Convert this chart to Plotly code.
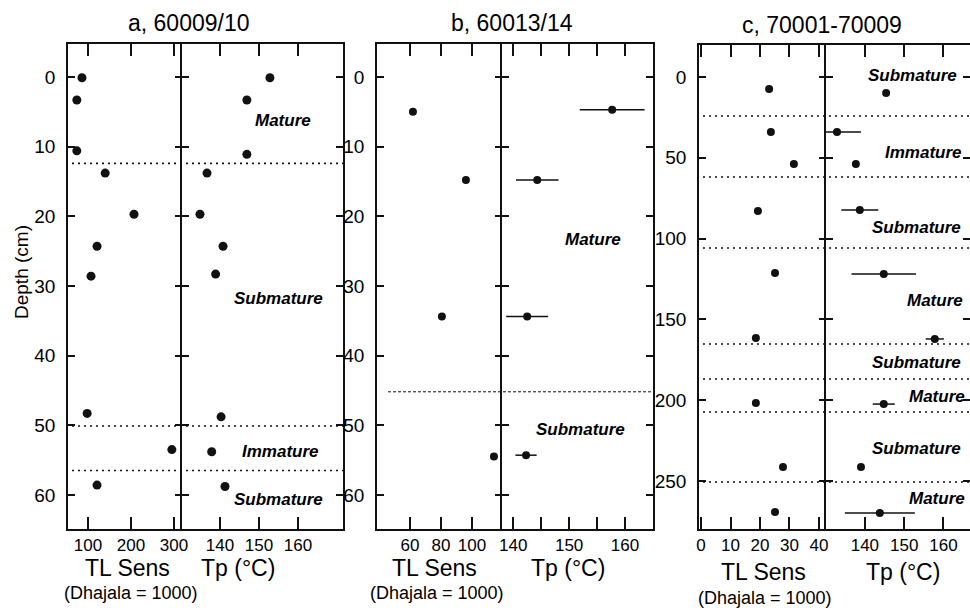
import plotly.graph_objects as go

# ---------------- data ----------------
# Panel a: 60009/10
a_tl_depth = [0.1, 3.3, 10.6, 13.8, 19.7, 24.3, 28.6, 48.3, 53.5, 58.6]
a_tl = [86, 74, 74, 140, 207, 121, 107, 98, 295, 121]
a_tp_depth = [0.1, 3.3, 11.1, 13.8, 19.7, 24.3, 28.3, 48.8, 53.8, 58.8]
a_tp = [152.8, 146.9, 146.9, 136.7, 134.9, 140.8, 138.9, 140.3, 137.9, 141.3]
a_bounds = [12.4, 50.1, 56.5]
a_zones = ["Mature", "Submature", "Immature", "Submature"]
a_zone_depth = [6.2, 31.8, 53.8, 60.7]

# Panel b: 60013/14
b_tl_depth = [5.0, 14.8, 34.4, 54.5]
b_tl = [61.9, 96.1, 80.6, 114.2]
b_tp_depth = [4.7, 14.8, 34.4, 54.3]
b_tp = [157.7, 144.3, 142.5, 142.3]
b_tp_err = [5.8, 3.8, 3.75, 1.9]
b_bounds = [45.2]
b_zones = ["Mature", "Submature"]
b_zone_depth = [23.4, 50.6]

# Panel c: 70001-70009
c_tl_depth = [7.4, 34.0, 53.8, 82.9, 121.3, 161.5, 201.7, 241.3, 269.2]
c_tl = [23.1, 23.7, 31.5, 19.3, 25.1, 18.6, 18.6, 27.8, 25.1]
c_tp_depth = [9.9, 34.0, 53.8, 82.3, 121.9, 162.1, 202.4, 241.3, 269.8]
c_tp = [145.4, 132.9, 137.7, 138.7, 144.8, 157.8, 144.8, 139.0, 143.8]
c_tp_err = [0, 6.1, 0, 4.7, 8.2, 2.3, 2.8, 0, 8.9]
c_bounds = [24.1, 61.9, 105.8, 165.2, 186.9, 207.3, 250.6]
c_zones = ["Submature", "Immature", "Submature", "Mature",
           "Submature", "Mature", "Submature", "Mature"]
c_zone_depth = [-1.2, 47, 93.4, 138, 176.4, 198, 230, 261]

titles = ["a, 60009/10", "b, 60013/14", "c, 70001-70009"]
a_tl_ticks = [100, 200, 300]
b_tl_ticks = [60, 80, 100]
c_tl_ticks = [0, 10, 20, 30, 40]
tp_ticks_ac = [140, 150, 160]
b_tp_ticks = [140, 145, 150, 155, 160]
b_tp_ticktext = ["140", "", "150", "", "160"]
ab_depth_ticks = [0, 10, 20, 30, 40, 50, 60]
c_depth_ticks = [0, 50, 100, 150, 200, 250]

# ---------------- layout helpers ----------------
W, H = 970, 608
FONT = "Liberation Sans, Arial, Helvetica, sans-serif"
INK = "#111111"


def fx(px):
    return px / W


def fy(py):
    return 1 - py / H


fig = go.Figure()

panels = [
    dict(tl=(a_tl, a_tl_depth), tp=(a_tp, a_tp_depth, None), size=9,
         xs=("x", "x2"), ys=("y", "y2"), ov="y7"),
    dict(tl=(b_tl, b_tl_depth), tp=(b_tp, b_tp_depth, b_tp_err), size=8,
         xs=("x3", "x4"), ys=("y3", "y4"), ov="y8"),
    dict(tl=(c_tl, c_tl_depth), tp=(c_tp, c_tp_depth, c_tp_err), size=8,
         xs=("x5", "x6"), ys=("y5", "y6"), ov="y9"),
]

for p in panels:
    fig.add_trace(go.Scatter(x=p["tl"][0], y=p["tl"][1], mode="markers",
                             marker=dict(color=INK, size=p["size"]),
                             xaxis=p["xs"][0], yaxis=p["ys"][0],
                             showlegend=False, hoverinfo="skip"))
    err = p["tp"][2]
    fig.add_trace(go.Scatter(x=p["tp"][0], y=p["tp"][1], mode="markers",
                             marker=dict(color=INK, size=p["size"]),
                             error_x=(dict(type="data", array=err, visible=True,
                                           width=0, thickness=1.5, color=INK)
                                      if err is not None else None),
                             xaxis=p["xs"][1], yaxis=p["ys"][1],
                             showlegend=False, hoverinfo="skip"))
    # invisible trace so that the overlay tick axis (mid divider ticks) is drawn
    fig.add_trace(go.Scatter(x=p["tl"][0][:1], y=p["tl"][1][:1], mode="markers",
                             marker=dict(opacity=0), xaxis=p["xs"][0],
                             yaxis=p["ov"], showlegend=False,
                             hoverinfo="skip"))

common = dict(linecolor=INK, linewidth=1.6, tickwidth=1.6, tickcolor=INK,
              showgrid=False, zeroline=False, automargin=False)
xcommon = dict(common, showline=True, mirror="ticks", ticks="inside",
               ticklen=12, tickfont=dict(size=17, family=FONT, color="black"))
ycommon = dict(common, ticklen=7, ticklabelstandoff=7,
               tickfont=dict(size=19, family=FONT, color="black"))

ab_dom = [fy(529), fy(44)]
ab_rng = [64.9, -4.74]
c_dom = [fy(529), fy(45)]
c_rng = [279.7, -19.8]


def y_tl(dom, rng, ticks, anchor):
    # left edge: line + inward ticks + labels
    return dict(ycommon, domain=dom, range=rng, tickvals=ticks, anchor=anchor,
                showline=True, mirror=False, ticks="inside")


def y_tp(dom, rng, ticks, anchor):
    # divider line + right edge line, inward ticks on both
    return dict(ycommon, domain=dom, range=rng, tickvals=ticks, anchor=anchor,
                showline=True, mirror="ticks", ticks="inside",
                showticklabels=False)


def y_ov(over, rng, ticks, anchor):
    # ticks on divider pointing into the TL half
    return dict(ycommon, overlaying=over, range=rng, tickvals=ticks,
                anchor=anchor, side="right", showline=False, ticks="inside",
                showticklabels=False)


layout_axes = dict(
    xaxis=dict(xcommon, domain=[fx(68), fx(182)], range=[53.5, 318.6],
               tickvals=a_tl_ticks, anchor="y"),
    xaxis2=dict(xcommon, domain=[fx(182), fx(343)], range=[130.3, 171.5],
                tickvals=tp_ticks_ac, anchor="y2"),
    xaxis3=dict(xcommon, domain=[fx(377), fx(502)], range=[38.7, 119.4],
                tickvals=b_tl_ticks, anchor="y3"),
    xaxis4=dict(xcommon, domain=[fx(502), fx(653)], range=[138.0, 165.0],
                tickvals=b_tp_ticks, ticktext=b_tp_ticktext, anchor="y4"),
    xaxis5=dict(xcommon, domain=[fx(699), fx(826)], range=[-0.7, 42.4],
                tickvals=c_tl_ticks, anchor="y5"),
    xaxis6=dict(xcommon, domain=[fx(826), 1.0], range=[130.1, 166.75],
                tickvals=tp_ticks_ac, anchor="y6"),
    yaxis=y_tl(ab_dom, ab_rng, ab_depth_ticks, "x"),
    yaxis2=y_tp(ab_dom, ab_rng, ab_depth_ticks, "x2"),
    yaxis3=y_tl(ab_dom, ab_rng, ab_depth_ticks, "x3"),
    yaxis4=y_tp(ab_dom, ab_rng, ab_depth_ticks, "x4"),
    yaxis5=y_tl(c_dom, c_rng, c_depth_ticks, "x5"),
    yaxis6=y_tp(c_dom, c_rng, c_depth_ticks, "x6"),
    yaxis7=y_ov("y", ab_rng, ab_depth_ticks, "x"),
    yaxis8=y_ov("y3", ab_rng, ab_depth_ticks, "x3"),
    yaxis9=y_ov("y5", c_rng, c_depth_ticks, "x5"),
)

# ---------------- zone boundaries ----------------
shapes = []
for d in a_bounds:
    shapes.append(dict(type="line", xref="paper", yref="y",
                       x0=fx(72), x1=fx(343), y0=d, y1=d,
                       line=dict(color=INK, width=1.6, dash="2px,4px")))
for d in b_bounds:
    shapes.append(dict(type="line", xref="paper", yref="y3",
                       x0=fx(388), x1=fx(653), y0=d, y1=d,
                       line=dict(color=INK, width=1, dash="3px,2px")))
for d in c_bounds:
    shapes.append(dict(type="line", xref="paper", yref="y5",
                       x0=fx(703), x1=1.0, y0=d, y1=d,
                       line=dict(color=INK, width=1.6, dash="2px,4px")))

# ---------------- annotations ----------------
ann = []
zone_font = dict(size=17, family=FONT, color="black")
a_zone_x = [156.2, 154.9, 155.6, 154.9]
b_zone_x = [154.3, 152.0]
c_zone_x = [152.0, 154.8, 153.2, 157.8, 153.2, 158.3, 153.2, 158.3]
for names, depths, xs, xr, yr in [
        (a_zones, a_zone_depth, a_zone_x, "x2", "y2"),
        (b_zones, b_zone_depth, b_zone_x, "x4", "y4"),
        (c_zones, c_zone_depth, c_zone_x, "x6", "y6")]:
    for n, d, xv in zip(names, depths, xs):
        ann.append(dict(text="<b><i>%s</i></b>" % n, x=xv, y=d, xref=xr,
                        yref=yr, showarrow=False, font=zone_font,
                        xanchor="center", yanchor="middle"))

title_pos = [(189, 23), (512, 23), (822, 25)]
for t, (px, py) in zip(titles, title_pos):
    ann.append(dict(text=t, x=fx(px), y=fy(py), xref="paper", yref="paper",
                    showarrow=False, xanchor="center", yanchor="middle",
                    font=dict(size=23, family=FONT, color="black")))

bottom = [((127, 568), (238, 568), (131, 593)),
          ((434, 568), (568, 568), (437, 593)),
          ((763, 572), (903, 572), (765, 598))]
for tl, tp, dh in bottom:
    ann.append(dict(text="TL Sens", x=fx(tl[0]), y=fy(tl[1]), xref="paper",
                    yref="paper", showarrow=False, xanchor="center",
                    yanchor="middle",
                    font=dict(size=23, family=FONT, color="black")))
    ann.append(dict(text="Tp (°C)", x=fx(tp[0]), y=fy(tp[1]), xref="paper",
                    yref="paper", showarrow=False, xanchor="center",
                    yanchor="middle",
                    font=dict(size=23, family=FONT, color="black")))
    ann.append(dict(text="(Dhajala = 1000)", x=fx(dh[0]), y=fy(dh[1]),
                    xref="paper", yref="paper", showarrow=False,
                    xanchor="center", yanchor="middle",
                    font=dict(size=18, family=FONT, color="black")))

ann.append(dict(text="Depth (cm)", x=fx(21), y=fy(272), xref="paper",
                yref="paper", showarrow=False, textangle=-90,
                xanchor="center", yanchor="middle",
                font=dict(size=19, family=FONT, color="black")))

fig.update_layout(
    width=W, height=H, template="none",
    margin=dict(l=0, r=0, t=0, b=0, pad=0),
    paper_bgcolor="white", plot_bgcolor="white",
    showlegend=False, shapes=shapes, annotations=ann,
    font=dict(family=FONT, color="black"),
    **layout_axes,
)

fig.write_html("out.html")
